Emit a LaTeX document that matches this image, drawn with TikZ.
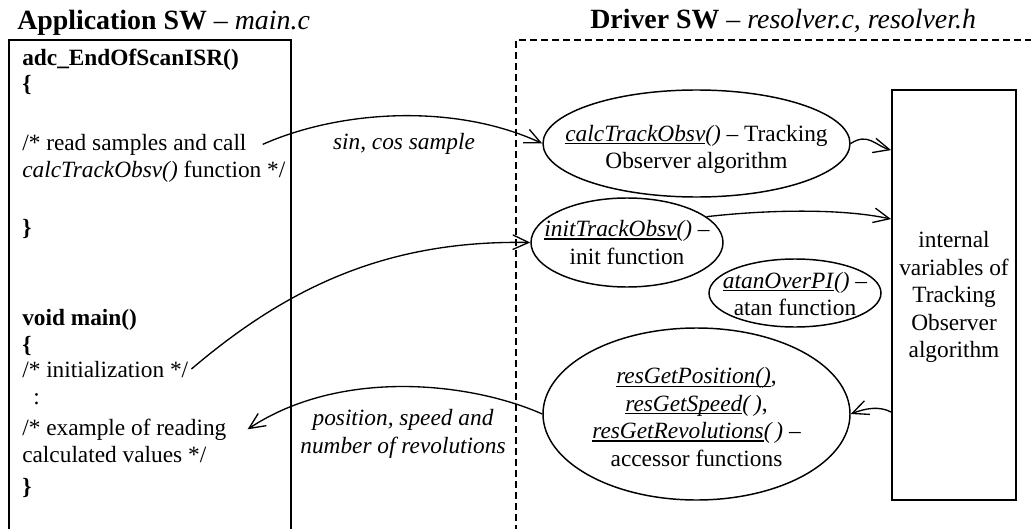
\documentclass[tikz,border=0pt]{standalone}
\usepackage{fontspec}
\setmainfont{Liberation Serif}
\usetikzlibrary{shapes.geometric,arrows.meta,calc}
\newlength\pxu \setlength\pxu{0.75pt}
\newlength\ulw
% underlined function name with a fixed rule depth
\newcommand\fnname[1]{\settowidth\ulw{#1}\rlap{\rule[-2.2pt]{\ulw}{0.9pt}}#1}

\begin{document}
\begin{tikzpicture}[x=0.75pt,y=-0.75pt,
  body/.style={inner sep=0pt,anchor=base west,font=\fontsize{17.5}{20.6}\selectfont},
  head/.style={inner sep=0pt,anchor=base west,font=\fontsize{20.9}{24}\selectfont},
  lbl/.style={align=center,inner sep=0pt,font=\fontsize{17.5}{20.6}\selectfont},
  fn/.style={draw,ellipse,line width=1.1pt,inner sep=0pt},
  frame/.style={line width=1.4pt},
  link/.style={line width=1pt,-{Straight Barb[length=12pt,width=11pt,line width=1pt]}},
]
\useasboundingbox (0,0) rectangle (1031,528);

% ---- headings
\node[head] (apptitle) at (17,30) {\textbf{Application SW} – \textit{main.c}};
\node[head] (drvtitle) at (590,29) {\textbf{Driver SW} – \textit{resolver.c, resolver.h}};

% ---- application frame (open at the bottom)
\node[minimum width=282\pxu,minimum height=492\pxu,inner sep=0pt] (appbox) at (150,286) {};
\draw[frame] (appbox.south west) -- (appbox.north west) -- (appbox.north east) -- (appbox.south east);

% ---- driver frame
\coordinate (dbot) at (516,532);
\coordinate (dtop) at (516,40);
\coordinate (dright) at (1036,40);
\draw[frame,dash pattern=on 5.25pt off 3pt] (dbot) -- (dtop) -- (dright);

% ---- application source lines
\node[body] (isr)   at (22,65)  {\textbf{adc\_EndOfScanISR()}};
\node[body] (isro)  at (22,92)  {\textbf{\{}};
\node[body] (readln) at (22,150) {/* read samples and call};
\node[body] (calcln) at (22,177) {\textit{calcTrackObsv()} function */};
\node[body] (isrc)  at (22,235) {\textbf{\}}};
\node[body] (mainf) at (22,325) {\textbf{void main()}};
\node[body] (maino) at (22,352) {\textbf{\{}};
\node[body] (initln) at (22,377) {/* initialization */};
\node[body] (dots)  at (33,404) {:};
\node[body] (exln)  at (22,435) {/* example of reading};
\node[body] (valln) at (22,462) {calculated values */};
\node[body] (mainc) at (22,494) {\textbf{\}}};

% ---- driver functions
\node[fn,minimum width=307\pxu,minimum height=107\pxu,
  label={[lbl,yshift=-6\pxu]center:{\fnname{\textit{calcTrackObsv}}\textit{()} – Tracking\\Observer algorithm}}]
  (calc) at (696.5,143.5) {};
\node[fn,minimum width=192\pxu,minimum height=89\pxu,
  label={[lbl]center:{\fnname{\textit{initTrackObsv}}\textit{()} –\\init function}}]
  (init) at (627,242.5) {};
\node[fn,minimum width=172\pxu,minimum height=68\pxu,
  label={[lbl,yshift=-1\pxu]center:{\fnname{\textit{atanOverPI}}\textit{()} –\\atan function}}]
  (atan) at (795,293) {};
\node[fn,minimum width=307\pxu,minimum height=172\pxu,
  label={[lbl,yshift=-3\pxu]center:{\fnname{\textit{resGetPosition()}},\\\fnname{\textit{resGetSpeed}}\textit{(\,)},\\\fnname{\textit{resGetRevolutions}}\textit{(\,)} –\\accessor functions}}]
  (res) at (696.5,414) {};

% ---- internal state
\node[draw,frame,minimum width=124\pxu,minimum height=410\pxu,inner sep=0pt,
  label={[lbl,yshift=-2\pxu]center:{internal\\variables of\\Tracking\\Observer\\algorithm}}]
  (ivars) at (954,295) {};

% ---- data flow labels
\node[lbl,font=\fontsize{17.5}{20.6}\selectfont\itshape] (sincos) at (404,144) {sin, cos sample};
\node[lbl,font=\fontsize{17.5}{20.6}\selectfont\itshape] (posout) at (403,434) {position, speed and\\number of revolutions};

% ---- connectors
\draw[link] ([xshift=16\pxu]readln.east) .. controls (340,110) and (455,103) .. (calc.west);
\draw[link] ([xshift=3\pxu]initln.east) .. controls (290,285) and (390,240) .. (init.west);
\draw[link] (calc.east) .. controls (868,132) and (876,146) .. ($(ivars.north west)+(0,61)$);
\draw[link] (init.18) .. controls (765,210) and (840,208) .. ($(ivars.north west)+(0,130)$);
\draw[link] ($(ivars.north west)+(0,323)$) .. controls (880,406) and (866,408) .. (res.east);
\draw[link] (res.west) .. controls (470,382) and (340,368) .. ([xshift=21\pxu]exln.east);
\end{tikzpicture}
\end{document}
